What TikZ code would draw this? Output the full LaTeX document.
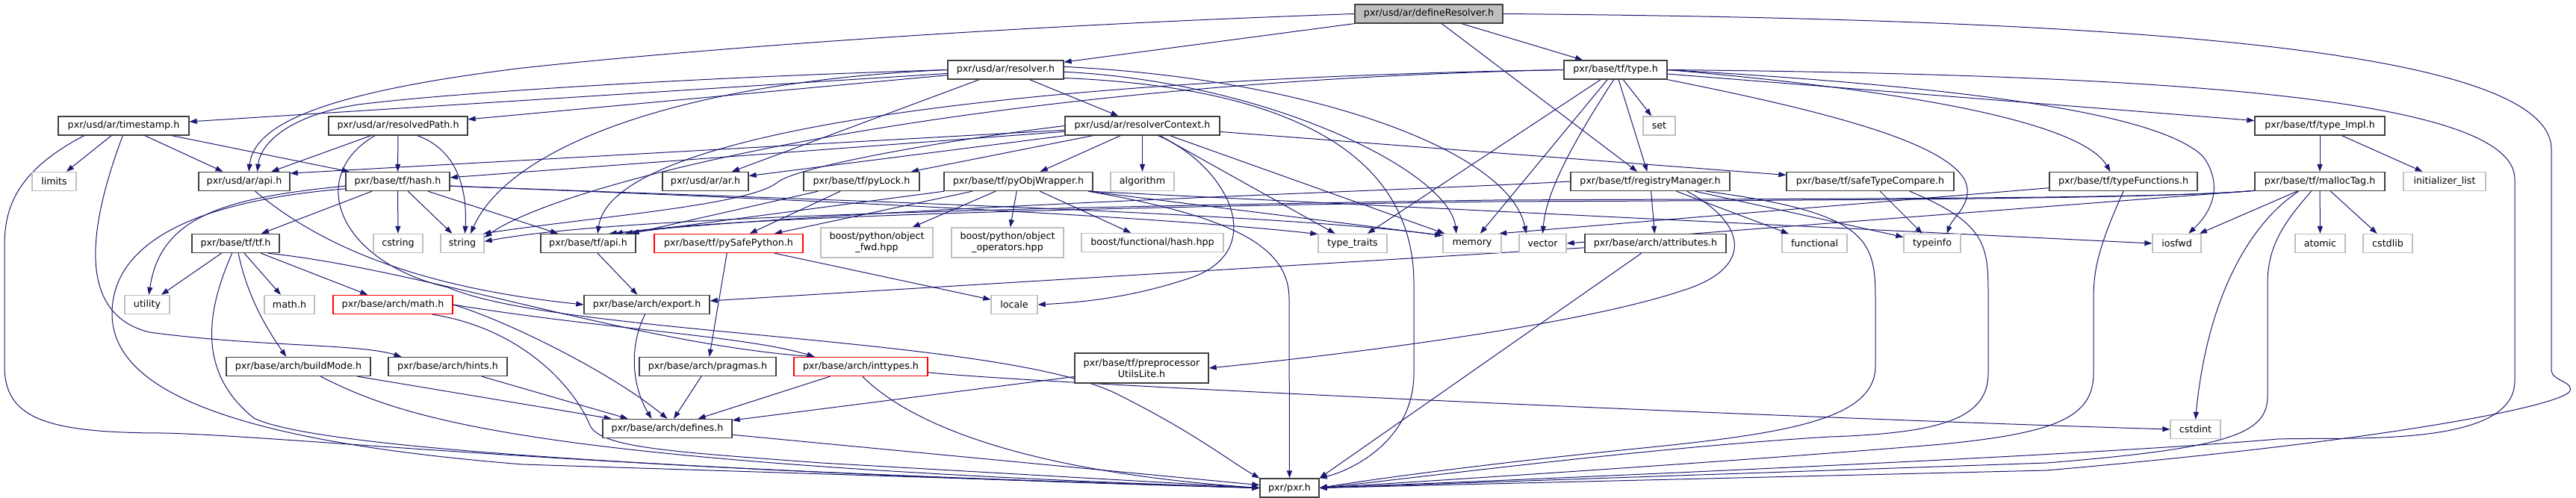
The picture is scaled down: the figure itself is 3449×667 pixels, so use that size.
\documentclass[tikz,border=0pt]{standalone}
\usepackage{fontspec}
\setmainfont{DejaVu Sans}
\usetikzlibrary{arrows.meta}
\definecolor{edgec}{HTML}{191970}
\definecolor{nbord}{HTML}{404040}
\definecolor{gbord}{HTML}{BFBFBF}
\definecolor{rbord}{HTML}{FF0000}
\definecolor{topfill}{HTML}{BFBFBF}
\pgfdeclarelayer{bgfill}
\pgfdeclarelayer{edges}
\pgfsetlayers{bgfill,edges,main}
\tikzset{
 base/.style={draw, rectangle, inner sep=0pt, minimum height=18.75pt, font=\fontsize{9.5}{11.25}\selectfont, line width=1pt, fill=white, align=center},
 nb/.style={base, draw=nbord},
 gb/.style={base, draw=gbord},
 rb/.style={base, draw=rbord},
 tb/.style={base, draw=nbord, fill=topfill},
 tall/.style={minimum height=30pt},
 bw/.style={minimum width=#1*0.75pt},
 dep/.style={draw=edgec, line width=0.75pt, -{Triangle[length=7.5pt,width=5.3pt]}}
}
\begin{document}
\begin{tikzpicture}[x=0.75pt,y=-0.75pt]
\useasboundingbox (0,0) rectangle (3449,667);
\begin{pgfonlayer}{bgfill}
\fill[white] (0,0) rectangle (3449,667);
\end{pgfonlayer}
% rank 0-2
\node[tb,bw=198] (dr) at (1913,18.5) {pxr/usd/ar/defineResolver.h};
\node[nb,bw=155] (res) at (1346.5,93.5) {pxr/usd/ar/resolver.h};
\node[nb,bw=138] (type) at (2163,93.5) {pxr/base/tf/type.h};
\node[nb,bw=175] (ts) at (165.5,168.5) {pxr/usd/ar/timestamp.h};
\node[nb,bw=186] (rp) at (533,168.5) {pxr/usd/ar/resolvedPath.h};
\node[nb,bw=207] (rc) at (1529.5,168.5) {pxr/usd/ar/resolverContext.h};
\node[gb,bw=43] (set) at (2221.5,168.5) {set};
\node[nb,bw=174] (timpl) at (3106,168.5) {pxr/base/tf/type\_Impl.h};
% rank 3
\node[gb,bw=59] (limits) at (72.5,243) {limits};
\node[nb,bw=122] (arapi) at (327,243) {pxr/usd/ar/api.h};
\node[nb,bw=139] (hash) at (532.5,243) {pxr/base/tf/hash.h};
\node[nb,bw=115] (arar) at (944.5,243) {pxr/usd/ar/ar.h};
\node[nb,bw=155] (pylock) at (1153.5,243) {pxr/base/tf/pyLock.h};
\node[nb,bw=199] (pyobj) at (1363.5,243) {pxr/base/tf/pyObjWrapper.h};
\node[gb,bw=85] (algo) at (1529.5,243) {algorithm};
\node[nb,bw=213] (reg) at (2209.5,243) {pxr/base/tf/registryManager.h};
\node[nb,bw=224] (stc) at (2504,243) {pxr/base/tf/safeTypeCompare.h};
\node[nb,bw=198] (tfun) at (2843,243) {pxr/base/tf/typeFunctions.h};
\node[nb,bw=174] (malloc) at (3106,243) {pxr/base/tf/mallocTag.h};
\node[gb,bw=110] (initl) at (3273,243) {initializer\_list};
% rank 4
\node[nb,bw=117] (tf) at (315.5,326) {pxr/base/tf/tf.h};
\node[gb,bw=66] (cstring) at (533,326) {cstring};
\node[gb,bw=58] (string) at (619,326) {string};
\node[nb,bw=127] (tfapi) at (787.5,326) {pxr/base/tf/api.h};
\node[rb,bw=199] (pysafe) at (975.5,326) {pxr/base/tf/pySafePython.h};
\node[gb,bw=150,tall] (objfwd) at (1174,325) {boost/python/object\\\_fwd.hpp};
\node[gb,bw=150,tall] (objops) at (1349,325) {boost/python/object\\\_operators.hpp};
\node[gb,bw=190] (funchash) at (1543,325) {boost/functional/hash.hpp};
\node[gb,bw=92] (ttraits) at (1811,326) {type\_traits};
\node[gb,bw=78] (memory) at (1971,326) {memory};
\node[gb,bw=63] (vector) at (2065.5,326) {vector};
\node[nb,bw=189] (attr) at (2216.5,326) {pxr/base/arch/attributes.h};
\node[gb,bw=87] (functional) at (2429.5,326) {functional};
\node[gb,bw=76] (typeinfo) at (2587,326) {typeinfo};
\node[gb,bw=65] (iosfwd) at (2914.5,326) {iosfwd};
\node[gb,bw=67] (atomic) at (3106.5,326) {atomic};
\node[gb,bw=66] (cstdlib) at (3197,326) {cstdlib};
% rank 5
\node[gb,bw=60] (utility) at (197,408) {utility};
\node[gb,bw=67] (mathh) at (387.5,408) {math.h};
\node[rb,bw=160] (archmath) at (526,408) {pxr/base/arch/math.h};
\node[nb,bw=168] (export) at (866,408) {pxr/base/arch/export.h};
\node[gb,bw=62] (locale) at (1358,408) {locale};
% rank 6
\node[nb,bw=193] (buildmode) at (399.5,491) {pxr/base/arch/buildMode.h};
\node[nb,bw=159] (hints) at (599.5,491) {pxr/base/arch/hints.h};
\node[nb,bw=183] (pragmas) at (947.5,491) {pxr/base/arch/pragmas.h};
\node[rb,bw=179] (inttypes) at (1152.5,491) {pxr/base/arch/inttypes.h};
\node[nb,bw=179,tall] (preproc) at (1528.5,493) {pxr/base/tf/preprocessor\\UtilsLite.h};
% rank 7-8
\node[nb,bw=173] (defines) at (893.5,574) {pxr/base/arch/defines.h};
\node[gb,bw=67] (cstdint) at (2939.5,575) {cstdint};
\node[nb,bw=79] (pxr) at (1726.5,653.5) {pxr/pxr.h};

\begin{pgfonlayer}{edges}
% defineResolver
\draw[dep] (dr) -- (res);
\draw[dep] (dr) -- (type);
\draw[dep] (dr) -- (reg);
\draw[dep] (dr.west) .. controls (1200,40) and (800,80) .. (700,91) .. controls (420,125) and (340,170) .. (arapi.65);
\draw[dep] (dr.east) .. controls (2800,25) and (3416,60) .. (3416,200) -- (3416,496) .. controls (3416,510) and (3449,512) .. (3440,525) .. controls (3420,545) and (3200,590) .. (2740,630) -- (pxr.east);
% resolver
\draw[dep] (res) -- (ts);
\draw[dep] (res) -- (rp);
\draw[dep] (res.west) .. controls (900,105) and (600,125) .. (480,140) .. controls (400,152) and (350,185) .. (arapi.37);
\draw[dep] (res.west) .. controls (900,110) and (680,200) .. (string.50);
\draw[dep] (res) -- (arar);
\draw[dep] (res) -- (rc);
\draw[dep] (res.-2) .. controls (1700,110) and (1940,230) .. (memory.148);
\draw[dep] (res.3) .. controls (1750,105) and (2020,200) .. (vector.149);
\draw[dep] (res.-8) .. controls (1800,120) and (1893,250) .. (1893,380) -- (1893,500) .. controls (1893,590) and (1810,630) .. (pxr.north east);
% type
\draw[dep] (type) -- (reg);
\draw[dep] (type) -- (set);
\draw[dep] (type.-100) .. controls (2100,200) and (2070,260) .. (vector.north);
\draw[dep] (type) -- (memory);
\draw[dep] (type) -- (ttraits);
\draw[dep] (type.south east) .. controls (2450,150) and (2600,190) .. (2630,240) .. controls (2645,270) and (2615,290) .. (typeinfo.34);
\draw[dep] (type.east) .. controls (2900,100) and (3367,130) .. (3367,240) -- (3367,510) .. controls (3367,600) and (3150,585) .. (3050,588) .. controls (2800,610) and (2100,640) .. (pxr.east);
\draw[dep] (type) -- (timpl);
\draw[dep] (type.east) .. controls (2700,120) and (2900,160) .. (2950,210) .. controls (2975,245) and (2965,280) .. (iosfwd.40);
\draw[dep] (type.east) .. controls (2600,125) and (2790,170) .. (tfun.143);
\draw[dep] (type.west) .. controls (1400,105) and (820,170) .. (tfapi.46);
\draw[dep] (type.west) .. controls (1300,110) and (760,240) .. (string.15);
% timestamp
\draw[dep] (ts) -- (limits);
\draw[dep] (ts) -- (arapi);
\draw[dep] (ts) -- (hash);
\draw[dep] (ts.-95) .. controls (120,300) and (100,420) .. (200,445) .. controls (350,465) and (480,460) .. (hints.168);
\draw[dep] (ts.-166) .. controls (20,230) and (6,280) .. (6,330) -- (6,490) .. controls (6,560) and (60,580) .. (220,580) .. controls (400,585) and (800,630) .. (pxr.west);
% resolvedPath
\draw[dep] (rp) -- (arapi);
\draw[dep] (rp) -- (hash);
\draw[dep] (rp.-27) .. controls (610,200) and (626,250) .. (string.75);
\draw[dep] (rp.-157) .. controls (410,235) and (450,350) .. (600,385) .. controls (750,450) and (1350,450) .. (1500,530) .. controls (1600,580) and (1650,620) .. (pxr.north west);
% resolverContext
\draw[dep] (rc) -- (arapi.10);
\draw[dep] (rc) -- (hash);
\draw[dep] (rc) -- (arar);
\draw[dep] (rc) -- (pylock);
\draw[dep] (rc) -- (pyobj);
\draw[dep] (rc) -- (algo);
\draw[dep] (rc) -- (ttraits);
\draw[dep] (rc) -- (memory);
\draw[dep] (rc) -- (stc);
\draw[dep] (rc.-32) .. controls (1640,220) and (1700,330) .. (1600,370) .. controls (1520,398) and (1450,405) .. (locale.east);
\draw[dep] (rc.west) .. controls (1250,190) and (1060,225) .. (1040,245) .. controls (1000,275) and (800,290) .. (string.25);
% pyLock, pyObjWrapper
\draw[dep] (pylock) -- (pysafe);
\draw[dep] (pylock) -- (tfapi);
\draw[dep] (pyobj) -- (pysafe);
\draw[dep] (pyobj) -- (tfapi.15);
\draw[dep] (pyobj) -- (objfwd);
\draw[dep] (pyobj) -- (objops);
\draw[dep] (pyobj) -- (funchash);
\draw[dep] (pyobj.-8) .. controls (1650,290) and (1726,330) .. (1726,400) -- (pxr.north);
\draw[dep] (pyobj.-8) -- (memory.165);
\draw[dep] (pyobj.-8) -- (iosfwd.west);
% registryManager
\draw[dep] (reg) -- (attr);
\draw[dep] (reg) -- (functional);
\draw[dep] (reg) -- (typeinfo);
\draw[dep] (reg.-10) .. controls (2500,285) and (2511,320) .. (2511,400) -- (2511,490) .. controls (2511,560) and (2400,580) .. (2200,600) .. controls (2000,620) and (1850,640) .. (pxr.east);
\draw[dep] (reg.-15) .. controls (2340,300) and (2350,360) .. (2250,390) .. controls (2100,440) and (1750,480) .. (preproc.east);
\draw[dep] (reg.west) .. controls (1900,255) and (1200,275) .. (tfapi.25);
% safeTypeCompare, typeFunctions
\draw[dep] (stc) -- (typeinfo);
\draw[dep] (stc.-14) .. controls (2662,300) and (2662,330) .. (2662,400) -- (2662,500) .. controls (2662,560) and (2600,580) .. (2450,585) .. controls (2200,600) and (1900,640) .. (pxr.east);
\draw[dep] (tfun.-175) -- (memory.20);
\draw[dep] (tfun.south) .. controls (2810,330) and (2803,360) .. (2803,400) -- (2803,500) .. controls (2803,560) and (2750,580) .. (2600,595) .. controls (2300,620) and (1900,645) .. (pxr.east);
% mallocTag, type_Impl
\draw[dep] (malloc) -- (iosfwd);
\draw[dep] (malloc) -- (atomic);
\draw[dep] (malloc) -- (cstdlib);
\draw[dep] (malloc.-155) .. controls (3011,300) and (2955,400) .. (cstdint.north);
\draw[dep] (malloc.-131) .. controls (3057,299) and (3036,330) .. (3036,380) -- (3036,530) .. controls (3036,580) and (2990,600) .. (2740,620) -- (pxr.east);
\draw[dep] (malloc.-172) -- (vector.east);
\draw[dep] (malloc.-172) .. controls (2900,266) and (2500,266) .. (2000,268) .. controls (1200,280) and (800,295) .. (string.5);
\draw[dep] (malloc.-172) .. controls (2900,266) and (2500,268) .. (2000,270) .. controls (1300,280) and (950,295) .. (tfapi.20);
\draw[dep] (timpl) -- (malloc);
\draw[dep] (timpl) -- (initl);
% attributes
\draw[dep] (attr) -- (export);
\draw[dep] (attr) -- (pxr.north east);
% tf.h
\draw[dep] (tf) -- (utility);
\draw[dep] (tf) -- (mathh);
\draw[dep] (tf) -- (archmath);
\draw[dep] (tf.-75) .. controls (330,390) and (350,430) .. (buildmode.141);
\draw[dep] (tf.-110) .. controls (275,420) and (265,500) .. (340,560) .. controls (420,600) and (900,630) .. (pxr.west);
\draw[dep] (tf.-17) .. controls (560,360) and (850,460) .. (inttypes.168);
% hash.h
\draw[dep] (hash) -- (tf);
\draw[dep] (hash) -- (cstring);
\draw[dep] (hash) -- (string);
\draw[dep] (hash) -- (tfapi);
\draw[dep] (hash.-175) .. controls (300,265) and (215,290) .. (utility.80);
\draw[dep] (hash.-172) .. controls (250,270) and (150,330) .. (150,420) .. controls (150,520) and (300,590) .. (700,622) -- (pxr.west);
\draw[dep] (hash.-5) .. controls (1100,268) and (1550,290) .. (ttraits.165);
\draw[dep] (hash.-5) .. controls (1100,268) and (1700,285) .. (memory.165);
% api headers, pySafePython
\draw[dep] (arapi.-42) .. controls (430,330) and (560,385) .. (export.west);
\draw[dep] (tfapi) -- (export);
\draw[dep] (pysafe) -- (pragmas);
\draw[dep] (pysafe) -- (locale);
% arch/math.h
\draw[dep] (archmath.east) .. controls (680,430) and (820,500) .. (defines.north);
\draw[dep] (archmath.east) .. controls (800,440) and (1000,450) .. (inttypes.168);
\draw[dep] (archmath.-14) .. controls (700,440) and (770,520) .. (790,570) .. controls (805,600) and (900,605) .. (1100,620) -- (pxr.west);
% export
\draw[dep] (export.-100) .. controls (842,463) and (846,517) .. (defines.148);
% rank 6
\draw[dep] (buildmode) -- (defines.170);
\draw[dep] (buildmode.-24) .. controls (540,560) and (700,620) .. (pxr.west);
\draw[dep] (hints) -- (defines.166);
\draw[dep] (pragmas) -- (defines);
\draw[dep] (inttypes) -- (defines);
\draw[dep] (inttypes.-80) .. controls (1210,560) and (1350,630) .. (pxr.west);
\draw[dep] (inttypes.-5) .. controls (1400,515) and (2400,560) .. (cstdint.west);
\draw[dep] (preproc) -- (defines);
\draw[dep] (defines) -- (pxr);
\end{pgfonlayer}
\end{tikzpicture}
\end{document}
